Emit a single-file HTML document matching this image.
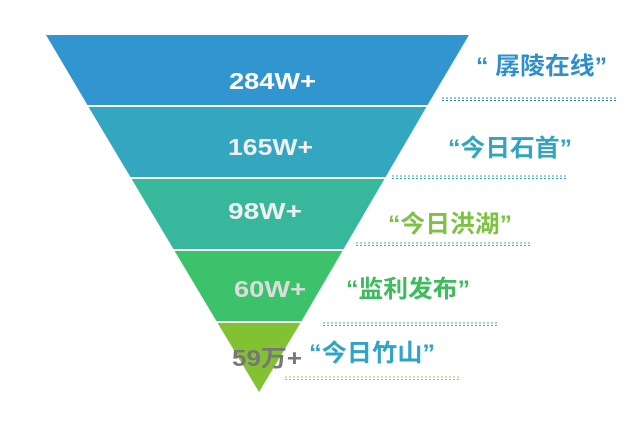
<!DOCTYPE html>
<html><head><meta charset="utf-8"><style>
html,body{margin:0;padding:0;background:#fff;width:627px;height:425px;overflow:hidden}
svg{display:block}
text{font-family:"Liberation Sans","Noto Sans CJK SC",sans-serif;font-weight:bold}
</style></head><body>
<svg width="627" height="425" viewBox="0 0 627 425">
<polygon points="46,35 469,35 427,106 88,106" fill="#3196d0"/>
<polygon points="88,106 427,106 385,178 131,178" fill="#33a6c0"/>
<polygon points="131,178 385,178 343,250 174,250" fill="#37b79c"/>
<polygon points="174,250 343,250 301,322 217,322" fill="#3cc26a"/>
<polygon points="217,322 301,322 259,392" fill="#82c232"/>
<g stroke="#fff" stroke-width="2">
<line x1="80" y1="106" x2="440" y2="106"/><line x1="120" y1="178" x2="400" y2="178"/>
<line x1="160" y1="250" x2="360" y2="250"/><line x1="200" y1="322" x2="320" y2="322"/>
</g>
<g stroke-dasharray="2,2" stroke-width="1">
<line x1="442" y1="98" x2="617" y2="98" stroke="#2a80c0"/><line x1="442" y1="100.5" x2="617" y2="100.5" stroke="#2a80c0"/>
<line x1="392" y1="176" x2="566" y2="176" stroke="#33a6c0"/><line x1="392" y1="178.5" x2="566" y2="178.5" stroke="#33a6c0"/>
<line x1="356" y1="243" x2="530" y2="243" stroke="#37b79c"/><line x1="356" y1="245.5" x2="530" y2="245.5" stroke="#37b79c"/>
<line x1="323" y1="323" x2="497" y2="323" stroke="#3cb880"/><line x1="323" y1="325.5" x2="497" y2="325.5" stroke="#3cb880"/>
<line x1="285" y1="377" x2="460" y2="377" stroke="#9acb5a"/><line x1="285" y1="379.5" x2="460" y2="379.5" stroke="#9acb5a"/>
</g>
<g font-size="23">
<text x="229" y="89" fill="#fff" textLength="87" lengthAdjust="spacingAndGlyphs">284W+</text>
<text x="228" y="155" fill="#f0f0f0" textLength="85" lengthAdjust="spacingAndGlyphs">165W+</text>
<text x="228" y="219" fill="#f0f0f0" textLength="74" lengthAdjust="spacingAndGlyphs">98W+</text>
<text x="234" y="297" fill="#dcdcdc" textLength="72" lengthAdjust="spacingAndGlyphs">60W+</text>
<text x="232" y="366" fill="#777" textLength="70" lengthAdjust="spacingAndGlyphs">59万+</text>
</g>
<g font-size="24">
<text x="476" y="74" fill="#2e8fcc" textLength="131" lengthAdjust="spacingAndGlyphs">“ 孱陵在线”</text>
<text x="448" y="156" fill="#2fa5c0" textLength="124" lengthAdjust="spacingAndGlyphs">“今日石首”</text>
<text x="388" y="232" fill="#7dc242" textLength="124" lengthAdjust="spacingAndGlyphs">“今日洪湖”</text>
<text x="346" y="297" fill="#3dbb5e" textLength="124" lengthAdjust="spacingAndGlyphs">“监利发布”</text>
<text x="309" y="361" fill="#2fa5c5" textLength="126" lengthAdjust="spacingAndGlyphs">“今日竹山”</text>
</g>
</svg>
</body></html>
